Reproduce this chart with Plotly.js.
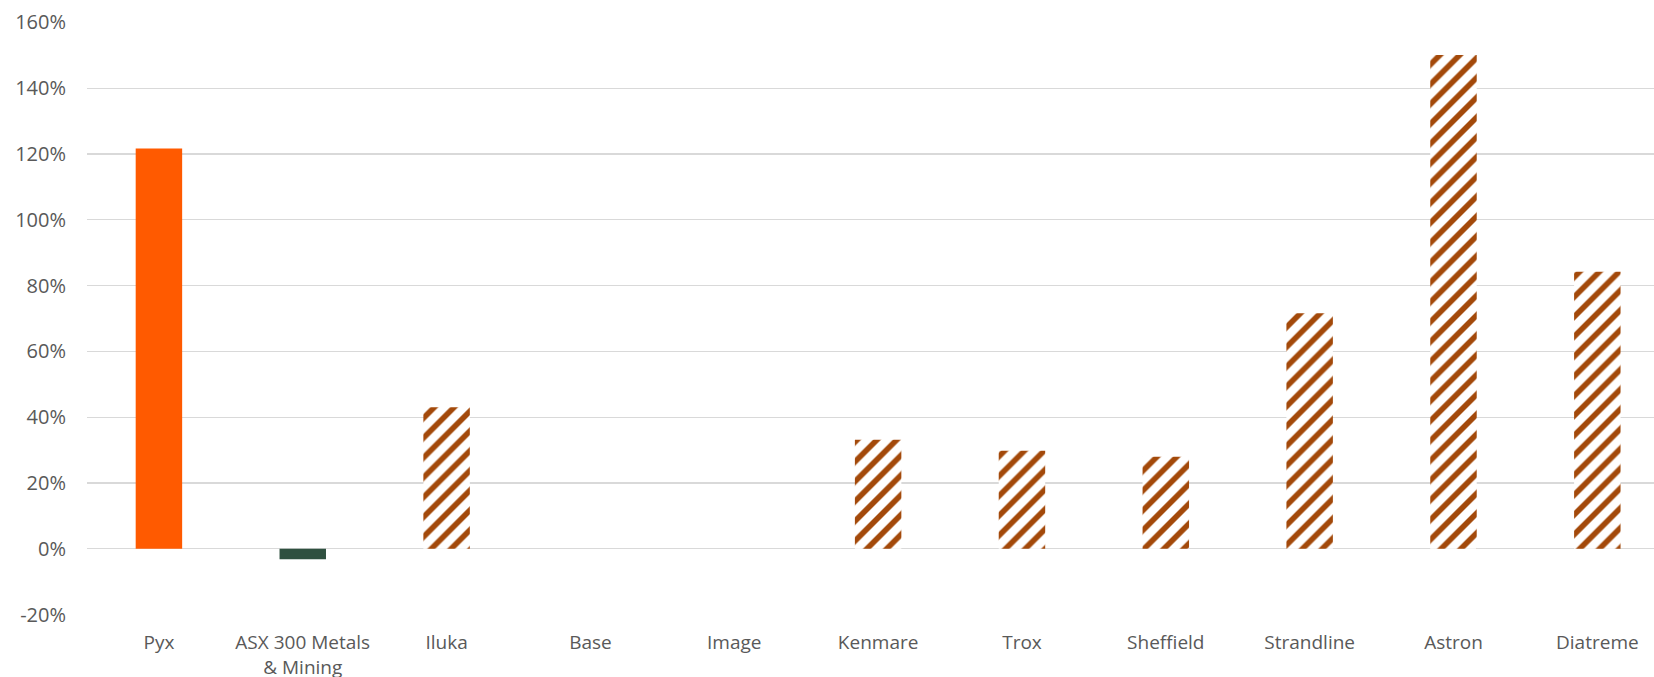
<!DOCTYPE html>
<html>
<head>
<meta charset="utf-8">
<script src="https://cdn.plot.ly/plotly-3.0.1.min.js"></script>
<style>
  html, body { margin: 0; padding: 0; background: #ffffff; }
  #chart { width: 1654px; height: 677px; }
</style>
</head>
<body>
<div id="chart"></div>
<script>
// Categories (x-axis tick labels)
var categories = ["Pyx", "ASX 300 Metals<br>& Mining", "Iluka", "Base", "Image", "Kenmare", "Trox", "Sheffield", "Strandline", "Astron", "Diatreme"];
// Returns in percent (null = no bar shown)
var returns = [121.7, -3.2, 43.0, null, null, 33.1, 29.8, 28.0, 71.6, 150.1, 84.2];
// Group of each category: company itself, index, or peer
var groups = ["company", "index", "peer", "peer", "peer", "peer", "peer", "peer", "peer", "peer", "peer"];
// Y-axis ticks
var yTickValues = [-20, 0, 20, 40, 60, 80, 100, 120, 140, 160];
var yTickLabels = ["-20%", "0%", "20%", "40%", "60%", "80%", "100%", "120%", "140%", "160%"];

var xIdx = categories.map(function (c, i) { return i; });

function valuesFor(group) {
  return returns.map(function (v, i) { return groups[i] === group ? v : null; });
}

var traces = [
  {
    type: "bar", x: xIdx, y: valuesFor("company"),
    marker: { color: "#FF5A00", line: { width: 0 } },
    hoverinfo: "skip"
  },
  {
    type: "bar", x: xIdx, y: valuesFor("index"),
    marker: { color: "#2F5040", line: { width: 0 } },
    hoverinfo: "skip"
  },
  {
    type: "bar", x: xIdx, y: valuesFor("peer"),
    marker: {
      color: "#FFFFFF",
      line: { width: 0 },
      pattern: {
        shape: "/",
        fgcolor: "#A3490A",
        bgcolor: "#FFFFFF",
        fgopacity: 1,
        size: 14,
        solidity: 0.4,
        fillmode: "replace"
      }
    },
    hoverinfo: "skip"
  }
];

var layout = {
  width: 1654,
  height: 677,
  margin: { l: 87, r: 0, t: 22, b: 62, pad: 0 },
  paper_bgcolor: "#FFFFFF",
  plot_bgcolor: "#FFFFFF",
  showlegend: false,
  barmode: "overlay",
  bargap: 0.677,
  font: { family: "Open Sans, sans-serif", size: 19, color: "#595959" },
  xaxis: {
    range: [-0.5, 10.394],
    tickmode: "array",
    tickvals: xIdx,
    ticktext: categories,
    showgrid: false,
    zeroline: false,
    showline: false,
    ticks: "",
    ticklabelstandoff: 14,
    tickfont: { family: "Open Sans, sans-serif", size: 19, color: "#595959" }
  },
  yaxis: {
    range: [-20.15, 160.15],
    tickmode: "array",
    tickvals: yTickValues,
    ticktext: yTickLabels,
    showgrid: true,
    gridcolor: "#D9D9D9",
    gridwidth: 1.3,
    zeroline: true,
    zerolinecolor: "#D9D9D9",
    zerolinewidth: 1.3,
    showline: false,
    ticks: "",
    ticklabelstandoff: 20,
    tickfont: { family: "Open Sans, sans-serif", size: 20, color: "#595959" }
  }
};

Plotly.newPlot("chart", traces, layout, { displayModeBar: false, staticPlot: true });
</script>
</body>
</html>
